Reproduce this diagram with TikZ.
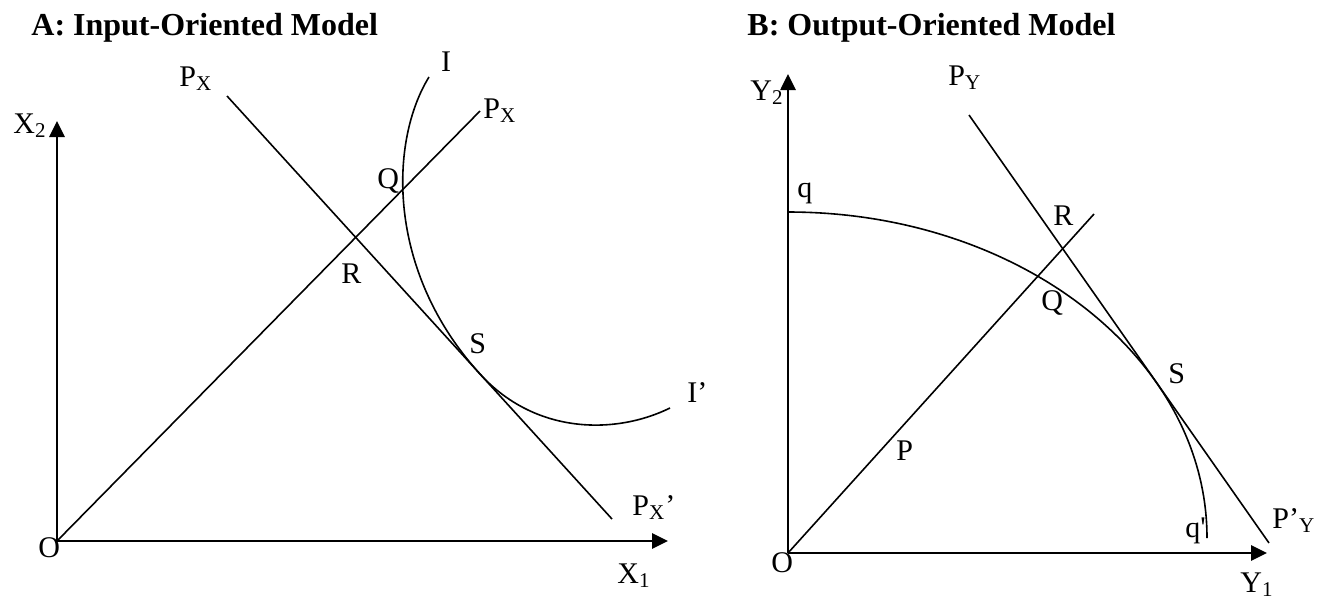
\documentclass[tikz,border=0pt]{standalone}
\usepackage{fontspec}
\setmainfont{Liberation Serif}
\usetikzlibrary{arrows.meta}

\begin{document}
\begin{tikzpicture}[x=0.5pt, y=-0.5pt,
  every node/.style={font=\fontsize{15}{18}\selectfont, inner sep=0pt},
  lbl/.style={anchor=base west},
  ttl/.style={anchor=base west, font=\fontsize{16}{19}\selectfont\bfseries},
  axis/.style={line width=1.35pt, -{Triangle[length=8pt, width=7.5pt]}},
  curve/.style={line width=0.8pt}
]
\useasboundingbox (0,0) rectangle (1321,601);

% A: input-oriented
\node[ttl] (titleA) at (31,35) {A: Input-Oriented Model};
\coordinate (OA)    at (57,541);
\coordinate (x2tip) at (57,121);
\coordinate (x1tip) at (668,541);
\coordinate (rayA)  at (480,111);
\coordinate (pxtop) at (227,96);
\coordinate (pxbot) at (612,519);
\coordinate (itop)  at (429,77);
\coordinate (SA)    at (480,374);
\coordinate (iend)  at (670,408);

\draw[axis] (OA) -- (x2tip);
\draw[axis] (OA) -- (x1tip);
\draw[curve] (OA) -- (rayA);
\draw[curve] (pxtop) -- (pxbot);
\draw[curve] (itop) .. controls (390,140) and (385,269.6) .. (SA)
                    .. controls (535,434.4) and (615,435) .. (iend);

\node[lbl] (lx2)  at (13,133)  {X\textsubscript{2}};
\node[lbl] (lx1)  at (617,583) {X\textsubscript{1}};
\node[lbl] (lOA)  at (38,557)  {O};
\node[lbl] (lpx1) at (179,86)  {P\textsubscript{X}};
\node[lbl] (lpx2) at (483,118) {P\textsubscript{X}};
\node[anchor=base] (lI) at (446,71) {I};
\node[lbl] (lQA)  at (377,188) {Q};
\node[lbl] (lRA)  at (341,283) {R};
\node[lbl] (lSA)  at (469,353) {S};
\node[lbl] (lI2)  at (687,402) {I’};
\node[lbl] (lpx3) at (632,515) {P\textsubscript{X}’};

% B: output-oriented
\node[ttl] (titleB) at (747,35) {B: Output-Oriented Model};
\coordinate (OB)    at (788,553);
\coordinate (y2tip) at (788,74);
\coordinate (y1tip) at (1267,553);
\coordinate (rayB)  at (1094,214);
\coordinate (pytop) at (969,115);
\coordinate (pybot) at (1269,543);
\coordinate (qtop)  at (788,212);

\draw[axis] (OB) -- (y2tip);
\draw[axis] (OB) -- (y1tip);
\draw[curve] (OB) -- (rayB);
\draw[curve] (pytop) -- (pybot);
\draw[curve] (qtop) arc[start angle=90, end angle=0, x radius=209.5pt, y radius=163pt];

\node[lbl] (ly2)  at (750,100)  {Y\textsubscript{2}};
\node[lbl] (ly1)  at (1240,592) {Y\textsubscript{1}};
\node[lbl] (lOB)  at (771,572)  {O};
\node[lbl] (lpy1) at (948,85)   {P\textsubscript{Y}};
\node[lbl] (lq)   at (797,197)  {q};
\node[lbl] (lRB)  at (1053,225) {R};
\node[lbl] (lQB)  at (1041,310) {Q};
\node[lbl] (lSB)  at (1168,383) {S};
\node[lbl] (lP)   at (896,460)  {P};
\node[lbl] (lq2)  at (1185,537) {q\textquotesingle};
\node[lbl] (lpy2) at (1272,528) {P’\textsubscript{Y}};
\end{tikzpicture}
\end{document}
